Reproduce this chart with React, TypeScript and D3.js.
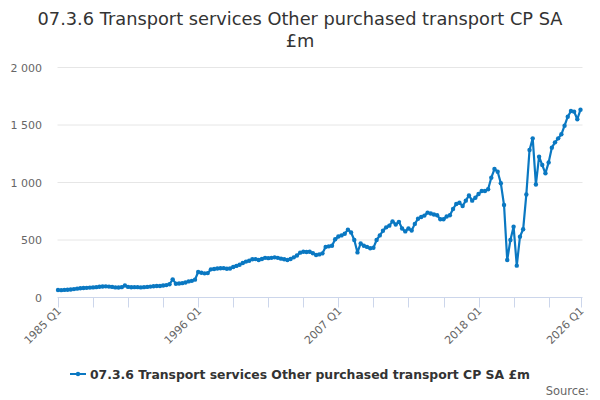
import React from "react";
import * as d3 from "d3";

const startYear = 1985;
const values: number[] = [
  65, 64, 66, 68, 70, 73, 77, 80, 82, 84, 86, 88, 90, 93, 96, 97,
  95, 92, 88, 87, 90, 104, 92, 89, 90, 90, 88, 90, 92, 95, 98, 100,
  100, 104, 108, 115, 158, 120, 122, 125, 130, 140, 145, 155, 222, 215,
  210, 212, 245, 248, 252, 254, 255, 250, 252, 265, 275, 285, 300, 312,
  320, 332, 334, 326, 335, 345, 342, 345, 349, 345, 338, 332, 326, 335,
  349, 365, 390, 398, 396, 398, 385, 370, 375, 384, 440, 445, 450, 506,
  530, 540, 555, 590, 565, 500, 392, 470, 450, 440, 428, 432, 500, 540,
  580, 610, 625, 662, 635, 658, 600, 575, 600, 582, 640, 685, 700, 712,
  738, 730, 722, 715, 680, 680, 705, 715, 770, 813, 824, 796, 842, 888,
  842, 868, 900, 926, 926, 941, 1042, 1117, 1094, 993, 804, 326, 500, 616,
  277, 529, 593, 896, 1283, 1384, 983, 1225, 1152, 1080, 1175, 1303, 1349,
  1384, 1419, 1494, 1572, 1622, 1616, 1550, 1633,
];
const categories: string[] = values.map(
  (_, i) => `${startYear + Math.floor(i / 4)} Q${(i % 4) + 1}`
);
const yTicks: number[] = [0, 500, 1000, 1500, 2000];
const tickEvery = 11;
const labelEvery = 44;
const title1 = "07.3.6 Transport services Other purchased transport CP SA";
const title2 = "£m";
const seriesName = "07.3.6 Transport services Other purchased transport CP SA £m";

const W = 600;
const H = 400;
const left = 57.5;
const right = 582.5;
const top = 67.5;
const bottom = 297.5;
const color = "#0a78c2";
const fontFamily = "'DejaVu Sans', sans-serif";

export default function App() {
  const n = values.length;
  const x = d3.scaleLinear().domain([0, n - 1]).range([left + 0.5, right - 2]);
  const y = d3.scaleLinear().domain([0, 2000]).range([bottom, top]);
  const line = d3
    .line<number>()
    .x((_, i) => x(i))
    .y((d) => y(d));

  const tickIdx: number[] = [];
  for (let i = 0; i < n; i += tickEvery) tickIdx.push(i);
  if (tickIdx[tickIdx.length - 1] !== n - 1) tickIdx.push(n - 1);
  const labelIdx = tickIdx.filter((i) => i % labelEvery === 0 || i === n - 1);

  return (
    <div style={{ position: "fixed", left: 0, top: 0 }}>
      <svg width={W} height={H} style={{ display: "block", fontFamily }}>
        <rect width={W} height={H} fill="#fff" />
        <text x={W / 2} y={25} textAnchor="middle" fontSize={17.8} fill="#333">
          {title1}
        </text>
        <text x={W / 2} y={47} textAnchor="middle" fontSize={17.8} fill="#333">
          {title2}
        </text>
        {yTicks.map((t) => (
          <g key={t}>
            {t > 0 && (
              <line x1={left} x2={right} y1={y(t)} y2={y(t)} stroke="#e6e6e6" strokeWidth={1} />
            )}
            <text x={42} y={y(t) + 4} textAnchor="end" fontSize={11} fill="#666">
              {d3.format(",")(t).replace(/,/g, " ")}
            </text>
          </g>
        ))}
        <line x1={left} x2={right} y1={bottom} y2={bottom} stroke="#ccd6eb" strokeWidth={1} />
        {tickIdx.map((i) => (
          <line
            key={i}
            x1={Math.round(x(i)) + 0.5}
            x2={Math.round(x(i)) + 0.5}
            y1={bottom}
            y2={bottom + 10}
            stroke="#ccd6eb"
            strokeWidth={1}
          />
        ))}
        {labelIdx.map((i) => (
          <text
            key={i}
            transform={`translate(${x(i) + 4},${bottom + 14}) rotate(-45)`}
            textAnchor="end"
            fontSize={11}
            fill="#666"
          >
            {categories[i]}
          </text>
        ))}
        <path d={line(values) || ""} fill="none" stroke={color} strokeWidth={2.2} strokeLinejoin="round" />
        {values.map((v, i) => (
          <circle key={i} cx={x(i)} cy={y(v)} r={2.2} fill={color} />
        ))}
        <g>
          <line x1={70} x2={86} y1={374} y2={374} stroke={color} strokeWidth={2} />
          <circle cx={78} cy={374} r={2.2} fill={color} />
          <text x={90} y={378.5} fontSize={12.4} fontWeight="bold" fill="#333">
            {seriesName}
          </text>
        </g>
        <text x={589} y={395} textAnchor="end" fontSize={11.5} fill="#666">
          Source:
        </text>
      </svg>
    </div>
  );
}
